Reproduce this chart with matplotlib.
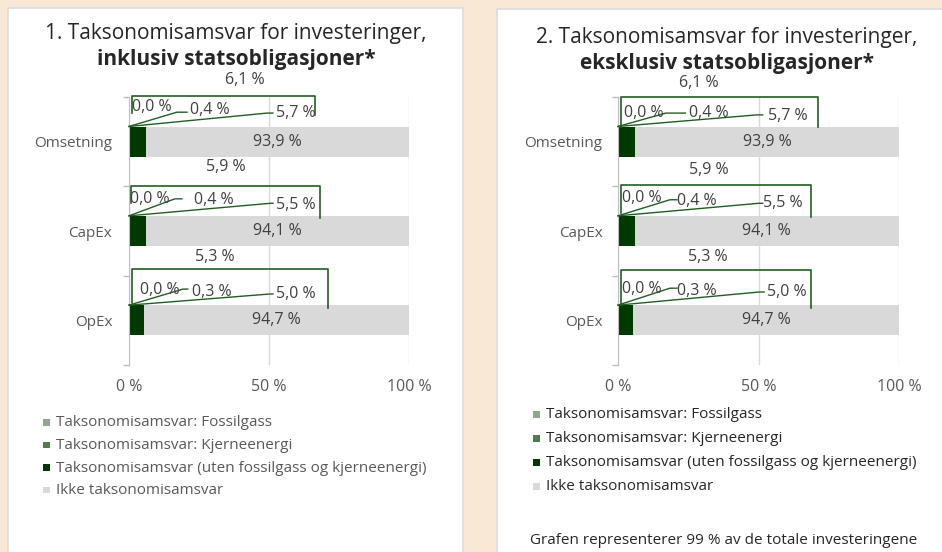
import matplotlib
matplotlib.use("Agg")
import matplotlib.pyplot as plt
from matplotlib.patches import Rectangle
from matplotlib.ticker import FixedLocator

plt.rcParams['font.family'] = ['Open Sans', 'DejaVu Sans']

# ---------------- data ----------------
categories = ['Omsetning', 'CapEx', 'OpEx']
fossilgass = [0.0, 0.0, 0.0]
kjerneenergi = [0.4, 0.4, 0.3]
uten = [5.7, 5.5, 5.0]
ikke = [93.9, 94.1, 94.7]
totals = [6.1, 5.9, 5.3]
series_names = ['Taksonomisamsvar: Fossilgass',
                'Taksonomisamsvar: Kjerneenergi',
                'Taksonomisamsvar (uten fossilgass og kjerneenergi)',
                'Ikke taksonomisamsvar']
x_ticks = [0, 50, 100]
x_ticklabels = ['0 %', '50 %', '100 %']
titles = [('1. Taksonomisamsvar for investeringer,', 'inklusiv statsobligasjoner*'),
          ('2. Taksonomisamsvar for investeringer,', 'eksklusiv statsobligasjoner*')]
footnote = 'Grafen representerer 99 % av de totale investeringene'

# ---------------- style ----------------
colors = ['#8DAA8D', '#4E7D4E', '#003A00', '#D9D9D9']
leader_col = '#225E22'
txt_col = '#404040'
tick_col = '#595959'
bg = '#FAE8D6'
W, H = 942, 552
LBL = 11.5

# callout layout (x in %, y offset from category centre)
layouts = [
    dict(total=[(41.4, -0.69), (34.6, -0.716), (30.7, -0.709)],
         bracket=[(1.1, 66.4, -0.51, -0.32, -0.30), (0.7, 68.2, -0.504, -0.31, -0.15),
                  (1.1, 71.1, -0.575, -0.19, -0.14)],
         labels=[[(8.2, -0.39), (28.9, -0.35), (59.6, -0.32)],
                 [(7.6, -0.36), (30.4, -0.35), (59.6, -0.29)],
                 [(11.1, -0.34), (29.6, -0.317), (59.6, -0.295)]],
         leaders=[[(17.1, -0.33, 20.7), (49.3, -0.32, 51.4)],
                  [(16.4, -0.36, 18.9), (50.4, -0.31, 51.4)],
                  [(19.3, -0.35, 21.0), (50.4, -0.295, 51.4)]]),
    dict(total=[(28.8, -0.657), (32.4, -0.683), (32.0, -0.709)],
         bracket=[(1.1, 71.2, -0.50, -0.164, -0.16), (1.1, 68.7, -0.515, -0.2, -0.157),
                  (1.1, 68.7, -0.563, -0.17, -0.138)],
         labels=[[(9.3, -0.32), (32.4, -0.32), (60.5, -0.287)],
                 [(8.5, -0.37), (28.1, -0.336), (58.7, -0.313)],
                 [(8.5, -0.35), (28.1, -0.328), (60.1, -0.317)]],
         leaders=[[(17.0, -0.32, 24.0), (49.5, -0.30, 51.5)],
                  [(18.5, -0.35, 21.0), (50.0, -0.31, 51.5)],
                  [(18.5, -0.36, 21.0), (50.2, -0.317, 52.0)]]),
]

fig = plt.figure(figsize=(W / 100, H / 100), dpi=100, facecolor=bg)

def fx(px):
    return px / W

def fy(py):
    return 1 - py / H

# white panels
for (x0, y0, x1, y1) in [(8, 8, 463, 570), (497, 9, 960, 570)]:
    fig.patches.append(Rectangle((fx(x0), fy(y1)), fx(x1 - x0), (y1 - y0) / H,
                                 transform=fig.transFigure, facecolor='white',
                                 edgecolor='#DADDE0', linewidth=1.2, zorder=-5))

axes_px = [(129, 280), (618, 281)]
title_pos = [(236, 33, 60), (727, 37, 63)]
legend_pos = [(43, 56, 423, 22.5), (533, 546, 415, 24)]
cat_pad = [12, 11]

for p in range(2):
    x0, w = axes_px[p]
    ax = fig.add_axes([fx(x0), fy(365), fx(w), (365 - 97) / H])
    ax.set_facecolor('none')
    ypos = list(range(len(categories)))
    lefts = [0.0] * len(categories)
    for s, vals in enumerate([fossilgass, kjerneenergi, uten, ikke]):
        ax.barh(ypos, vals, left=lefts, height=0.335, color=colors[s], zorder=2)
        lefts = [l + v for l, v in zip(lefts, vals)]
    ax.set_xlim(0, 100)
    ax.set_ylim(len(categories) - 0.5, -0.5)
    ax.set_xticks(x_ticks)
    ax.set_xticklabels(x_ticklabels)
    ax.set_yticks(ypos)
    ax.set_yticklabels(categories)
    ax.yaxis.set_minor_locator(FixedLocator([-0.5, 0.5, 1.5, 2.5]))
    ax.tick_params(axis='x', length=0, pad=10, labelsize=11.5, labelcolor=tick_col)
    ax.tick_params(axis='y', which='major', length=0, pad=cat_pad[p], labelsize=11,
                   labelcolor=tick_col)
    ax.tick_params(axis='y', which='minor', length=4, color='#BFBFBF', width=1)
    for sp in ['top', 'right', 'bottom']:
        ax.spines[sp].set_visible(False)
    ax.spines['left'].set_color('#BFBFBF')
    ax.grid(axis='x', color='#D9D9D9', linewidth=1, zorder=0)
    ax.set_axisbelow(True)

    L = layouts[p]
    for i in range(len(categories)):
        # gray-bar label
        gl = fossilgass[i] + kjerneenergi[i] + uten[i]
        ax.text(gl + ikke[i] / 2, i, f'{ikke[i]:.1f} %'.replace('.', ','),
                ha='center', va='center', fontsize=LBL, color=txt_col, zorder=4)
        # total label
        tx, tdy = L['total'][i]
        ax.text(tx, i + tdy, f'{totals[i]:.1f} %'.replace('.', ','), ha='center',
                va='center', fontsize=LBL, color=txt_col, clip_on=False)
        # bracket
        bl, br, bt, bbl, bbr = L['bracket'][i]
        ax.plot([bl, bl, br, br], [i + bbl, i + bt, i + bt, i + bbr], color=leader_col,
                lw=1.2, clip_on=False, zorder=3, solid_joinstyle='round')
        # small labels
        for (lx, ldy), v in zip(L['labels'][i], [fossilgass[i], kjerneenergi[i], uten[i]]):
            ax.text(lx, i + ldy, f'{v:.1f} %'.replace('.', ','), ha='center', va='center',
                    fontsize=LBL, color=txt_col, zorder=4)
        # leader lines
        for (ex, edy, hx) in L['leaders'][i]:
            ax.plot([0, ex, hx], [i - 0.17, i + edy, i + edy], color=leader_col, lw=1.0,
                    zorder=3, clip_on=False)

    # titles
    cx, y1, y2 = title_pos[p]
    fig.text(fx(cx), fy(y1), titles[p][0], ha='center', va='center', fontsize=15,
             color='#262626')
    fig.text(fx(cx), fy(y2), titles[p][1], ha='center', va='center', fontsize=15,
             fontweight='bold', color='#262626')

    # legend
    mx, tx0, ly, dy = legend_pos[p]
    for k, name in enumerate(series_names):
        yy = ly + k * dy
        fig.patches.append(Rectangle((fx(mx), fy(yy + 2.5)), fx(6.5), 6.5 / H,
                                     transform=fig.transFigure, facecolor=colors[k],
                                     edgecolor='none', zorder=2))
        fig.text(fx(tx0), fy(yy), name, ha='left', va='center', fontsize=11,
                 color=tick_col if p == 0 else '#262626')

fig.text(fx(724), fy(541), footnote, ha='center', va='center', fontsize=11, color='#262626')

fig.savefig('out.png', dpi=100, facecolor=bg)
